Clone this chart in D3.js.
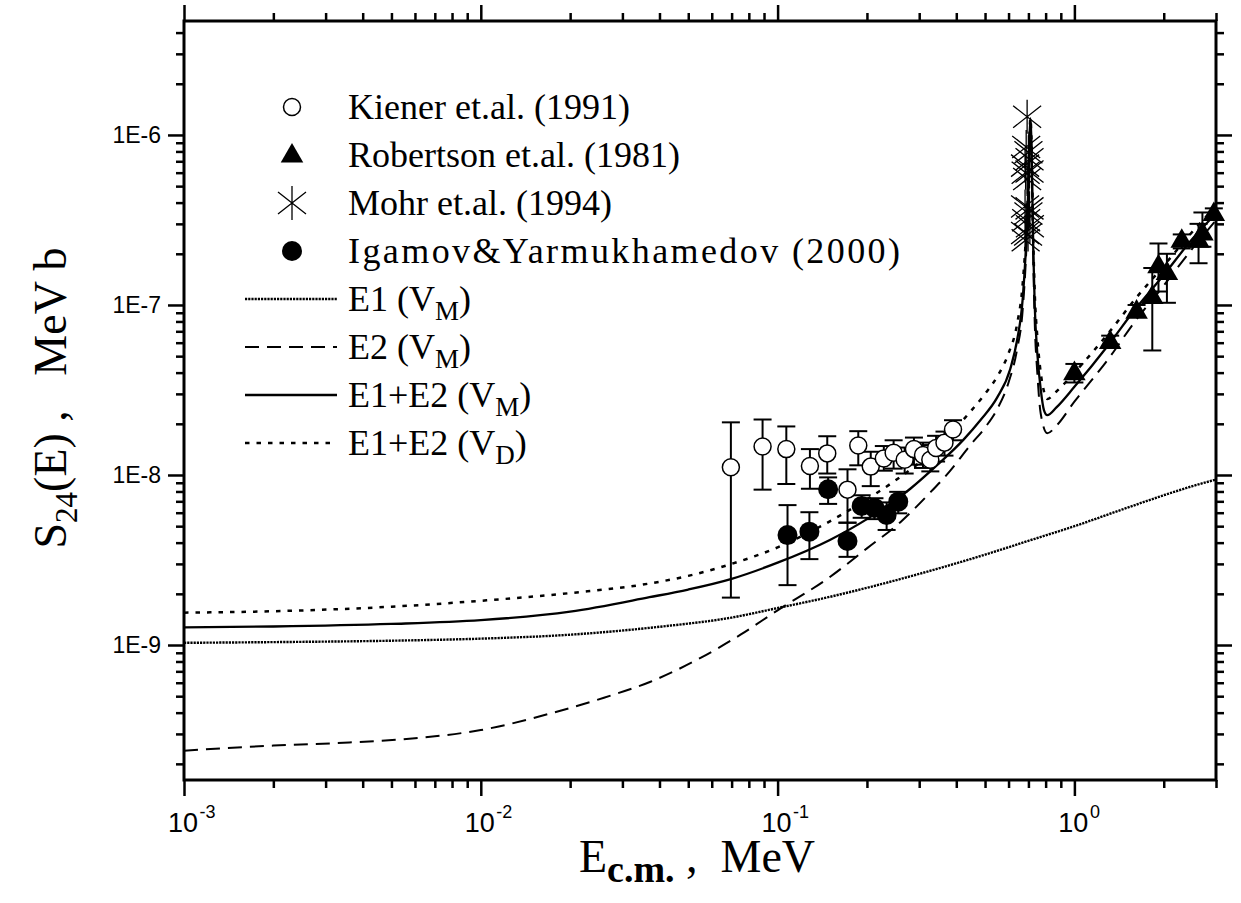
<!DOCTYPE html>
<meta charset="utf-8">
<title>S24(E) astrophysical factor</title>
<style>
body { margin: 0; background-color: #fff; }
svg { display: block; }
.tick line { stroke: #000; stroke-width: 2.5px; }
text { fill: #000; }
</style>
<body>
<script src="https://d3js.org/d3.v7.min.js"></script>
<script>
// plot size
var width = 1241,
    height = 903;

// calculated curves, [E (MeV), S (MeV b)]
var e1VM = [[0.001,1.03e-9],[0.002,1.04e-9],[0.005,1.06e-9],[0.01,1.09e-9],[0.02,1.15e-9],[0.04,1.28e-9],
  [0.07,1.45e-9],[0.1,1.65e-9],[0.15,1.92e-9],[0.2,2.17e-9],[0.3,2.62e-9],[0.5,3.4e-9],[0.7,4.1e-9],
  [1.0,5.0e-9],[1.5,6.4e-9],[2.0,7.6e-9],[2.5,8.6e-9],[3.0,9.4e-9]];

var e2VM = [[0.001,2.39e-10],[0.002,2.56e-10],[0.0036,2.67e-10],[0.006,2.83e-10],[0.01,3.16e-10],
  [0.0172,3.96e-10],[0.026,4.9e-10],[0.0373,6.08e-10],[0.055,8.4e-10],[0.075,1.15e-9],[0.1,1.6e-9],
  [0.147,2.45e-9],[0.2,3.7e-9],[0.263,5.4e-9],[0.32,7.6e-9],[0.38,1.05e-8],[0.446,1.5e-8],[0.5,1.9e-8],
  [0.55,2.45e-8],[0.6,3.5e-8],[0.64,5.4e-8],[0.67,9.5e-8],[0.69,2.3e-7],[0.70,4.8e-7],[0.706,9e-7],
  [0.711,1.2e-6],[0.716,9e-7],[0.721,4.5e-7],[0.727,1.8e-7],[0.735,8e-8],[0.75,4e-8],[0.77,2.3e-8],
  [0.81,1.76e-8],[0.87,1.95e-8],[1.0,2.7e-8],[1.3,4.8e-8],[1.6,8.0e-8],[2.0,1.3e-7],[2.5,2.15e-7],[3.0,3.15e-7]];

var sumVM = [[0.001,1.27e-9],[0.002,1.285e-9],[0.005,1.33e-9],[0.01,1.40e-9],[0.02,1.57e-9],[0.037,1.91e-9],
  [0.05,2.12e-9],[0.07,2.45e-9],[0.1,3.05e-9],[0.15,4.15e-9],[0.2,5.5e-9],[0.28,8.3e-9],[0.346,1.15e-8],
  [0.424,1.62e-8],[0.482,2.1e-8],[0.549,2.85e-8],[0.608,4.2e-8],[0.641,6.2e-8],[0.67,1.1e-7],
  [0.69,2.6e-7],[0.70,5.2e-7],[0.706,9.5e-7],[0.711,1.25e-6],[0.716,9.5e-7],[0.721,5e-7],[0.727,2.1e-7],
  [0.735,1.0e-7],[0.75,5.2e-8],[0.77,3.2e-8],[0.79,2.4e-8],[0.81,2.25e-8],[0.87,2.5e-8],[1.0,3.3e-8],
  [1.3,5.8e-8],[1.6,9.4e-8],[2.0,1.5e-7],[2.5,2.45e-7],[3.0,3.45e-7]];

var sumVD = [[0.001,1.55e-9],[0.002,1.58e-9],[0.005,1.68e-9],[0.01,1.82e-9],[0.02,2.02e-9],[0.037,2.3e-9],
  [0.05,2.55e-9],[0.07,3.0e-9],[0.1,3.75e-9],[0.14,5.0e-9],[0.2,7.2e-9],[0.254,9.5e-9],[0.3,1.18e-8],
  [0.35,1.5e-8],[0.4,1.9e-8],[0.45,2.4e-8],[0.5,3.0e-8],[0.55,3.8e-8],[0.6,5.2e-8],[0.64,7.6e-8],
  [0.67,1.35e-7],[0.69,3.0e-7],[0.70,5.6e-7],[0.706,1.0e-6],[0.711,1.25e-6],[0.716,1.0e-6],[0.721,5.4e-7],
  [0.727,2.4e-7],[0.735,1.2e-7],[0.75,6.5e-8],[0.77,4e-8],[0.79,3.1e-8],[0.81,2.8e-8],[0.87,3.1e-8],
  [1.0,4.0e-8],[1.3,6.8e-8],[1.6,1.08e-7],[2.0,1.7e-7],[2.5,2.7e-7],[3.0,3.8e-7]];

// measured points, [E, S, S low, S high]
var kiener = [[0.0696,1.11e-8,1.9e-9,2.04e-8],[0.089,1.47e-8,8.2e-9,2.12e-8],[0.107,1.42e-8,8.85e-9,1.93e-8],
  [0.1285,1.13e-8,8.3e-9,1.42e-8],[0.147,1.34e-8,1.02e-8,1.69e-8],[0.172,8.2e-9,5.24e-9,1.08e-8],
  [0.187,1.49e-8,1.14e-8,1.81e-8],[0.206,1.12e-8,8.6e-9,1.37e-8],[0.228,1.25e-8,1.06e-8,1.48e-8],
  [0.246,1.35e-8,1.09e-8,1.6e-8],[0.268,1.23e-8,1.02e-8,1.45e-8],[0.288,1.42e-8,1.15e-8,1.66e-8],
  [0.309,1.31e-8,1.1e-8,1.55e-8],[0.327,1.23e-8,1.05e-8,1.5e-8],[0.342,1.44e-8,1.2e-8,1.7e-8],
  [0.365,1.55e-8,1.3e-8,1.8e-8],[0.39,1.85e-8,1.6e-8,2.1e-8]];

var robertson = [[1.0,4.0e-8,3.5e-8,4.5e-8],[1.32,6.1e-8,5.6e-8,6.6e-8],[1.62,9.2e-8,8.5e-8,1.0e-7],
  [1.83,1.12e-7,5.4e-8,1.65e-7],[1.92,1.7e-7,1.2e-7,2.3e-7],[2.05,1.55e-7,1.03e-7,2.0e-7],
  [2.3,2.4e-7,2.15e-7,2.6e-7],[2.62,2.4e-7,1.76e-7,3.0e-7],[2.7,2.65e-7,2.2e-7,3.5e-7],[2.95,3.45e-7,3.2e-7,3.7e-7]];

var mohr = [[0.693,1.28e-6],[0.688,8.5e-7],[0.700,7.9e-7],[0.706,7.2e-7],[0.682,6.6e-7],[0.706,6.1e-7],
  [0.685,6.0e-7],[0.693,5.5e-7],[0.682,3.8e-7],[0.706,3.7e-7],[0.700,3.45e-7],[0.688,3.15e-7],
  [0.708,2.9e-7],[0.682,2.65e-7],[0.698,2.6e-7],[0.685,2.4e-7]];

var igamov = [[0.108,4.43e-9,2.25e-9,6.65e-9],[0.128,4.64e-9,3.2e-9,6.04e-9],[0.148,8.24e-9,6.76e-9,9.68e-9],
  [0.172,4.09e-9,3.3e-9,5.24e-9],[0.192,6.58e-9,5.6e-9,7.6e-9],[0.212,6.4e-9,5.5e-9,7.3e-9],
  [0.233,5.82e-9,4.75e-9,6.9e-9],[0.255,6.97e-9,5.95e-9,7.96e-9]];

// ticks and legend texts
var xMajor = [1e-3, 1e-2, 1e-1, 1];
var xTickLabels = [["10","-3"],["10","-2"],["10","-1"],["10","0"]];
var yMajor = [1e-9, 1e-8, 1e-7, 1e-6];
var yTickLabels = ["1E-9","1E-8","1E-7","1E-6"];
var legendKinds = ["open","tri","star","dot","e1","e2","sum","vd"];
var legendLabels = [
  [["Kiener et.al. (1991)",0]],
  [["Robertson et.al. (1981)",0]],
  [["Mohr et.al. (1994)",0]],
  [["Igamov&Yarmukhamedov (2000)",0]],
  [["E1 (V",0],["M",1],[")",0]],
  [["E2 (V",0],["M",1],[")",0]],
  [["E1+E2 (V",0],["M",1],[")",0]],
  [["E1+E2 (V",0],["D",1],[")",0]]
];

// frame of the plot area
var pLeft = 184, pRight = 1216, pTop = 21, pBottom = 780;

var x = d3.scaleLog().domain([1e-3, 3]).range([pLeft, pRight]);
var y = d3.scaleLog().domain([1.607e-10, 4.68e-6]).range([pBottom, pTop]);

var svg = d3.select("body").append("svg")
    .attr("width", width)
    .attr("height", height);

svg.append("rect").attr("width", width).attr("height", height).attr("fill", "#fff");

var serif = "'Liberation Serif', 'Times New Roman', serif",
    sans = "'Liberation Sans', Arial, sans-serif";

// line styles
var styles = {
  e1:  {dash: "2.2,1", w: 2.4},
  e2:  {dash: "14,8", w: 2},
  sum: {dash: null, w: 2.3},
  vd:  {dash: "4.5,7", w: 2.5}
};

// curves
var line = d3.line()
    .x(function(d) { return x(d[0]); })
    .y(function(d) { return y(d[1]); })
    .curve(d3.curveMonotoneX);

var plot = svg.append("g");
[[e1VM,"e1"],[e2VM,"e2"],[sumVM,"sum"],[sumVD,"vd"]].forEach(function(c) {
  plot.append("path")
    .attr("d", line(c[0]))
    .attr("fill", "none")
    .attr("stroke", "#000")
    .attr("stroke-width", styles[c[1]].w)
    .attr("stroke-dasharray", styles[c[1]].dash);
});

// error bars
function errorBars(data) {
  var g = plot.append("g").attr("stroke", "#000").attr("stroke-width", 2);
  data.forEach(function(d) {
    var cx = x(d[0]);
    g.append("line").attr("x1", cx).attr("x2", cx).attr("y1", y(d[2])).attr("y2", y(d[3]));
    g.append("line").attr("x1", cx - 9).attr("x2", cx + 9).attr("y1", y(d[2])).attr("y2", y(d[2]));
    g.append("line").attr("x1", cx - 9).attr("x2", cx + 9).attr("y1", y(d[3])).attr("y2", y(d[3]));
  });
}
errorBars(kiener);
errorBars(igamov);
errorBars(robertson);

// markers
var triPath = d3.symbol().type(d3.symbolTriangle).size(220)();
var starPath = "M0,-17L0,17M-14,-11L14,11M-14,11L14,-11";

function marker(g, kind, px, py) {
  if (kind === "open") {
    g.append("circle").attr("cx", px).attr("cy", py).attr("r", 8.5)
      .attr("fill", "#fff").attr("stroke", "#000").attr("stroke-width", 1.5);
  } else if (kind === "dot") {
    g.append("circle").attr("cx", px).attr("cy", py).attr("r", 10).attr("fill", "#000");
  } else if (kind === "tri") {
    g.append("path").attr("d", triPath).attr("transform", "translate(" + px + "," + (py + 1) + ")")
      .attr("fill", "#000");
  } else if (kind === "star") {
    g.append("path").attr("d", starPath).attr("transform", "translate(" + px + "," + py + ")")
      .attr("fill", "none").attr("stroke", "#000").attr("stroke-width", 1.3);
  }
}

kiener.forEach(function(d) { marker(plot, "open", x(d[0]), y(d[1])); });
igamov.forEach(function(d) { marker(plot, "dot", x(d[0]), y(d[1])); });
robertson.forEach(function(d) { marker(plot, "tri", x(d[0]), y(d[1])); });
mohr.forEach(function(d) { marker(plot, "star", x(d[0]), y(d[1])); });

// axes: minor and major ticks on all four sides
function isMajor(list, v) {
  return list.some(function(m) { return Math.abs(m - v) / m < 1e-6; });
}
var xMinor = x.ticks().filter(function(v) { return !isMajor(xMajor, v); });
var yMinor = y.ticks().filter(function(v) { return !isMajor(yMajor, v); });

function drawAxis(axis, tr) {
  svg.append("g").attr("transform", tr).call(axis)
    .call(function(g) { g.select(".domain").remove(); g.selectAll("text").remove(); });
}
drawAxis(d3.axisBottom(x).tickValues(xMinor).tickSize(8), "translate(0," + pBottom + ")");
drawAxis(d3.axisBottom(x).tickValues(xMajor).tickSize(16), "translate(0," + pBottom + ")");
drawAxis(d3.axisTop(x).tickValues(xMinor).tickSize(8), "translate(0," + pTop + ")");
drawAxis(d3.axisTop(x).tickValues(xMajor).tickSize(16), "translate(0," + pTop + ")");
drawAxis(d3.axisLeft(y).tickValues(yMinor).tickSize(8), "translate(" + pLeft + ",0)");
drawAxis(d3.axisLeft(y).tickValues(yMajor).tickSize(16), "translate(" + pLeft + ",0)");
drawAxis(d3.axisRight(y).tickValues(yMinor).tickSize(8), "translate(" + pRight + ",0)");
drawAxis(d3.axisRight(y).tickValues(yMajor).tickSize(16), "translate(" + pRight + ",0)");

svg.append("rect")
  .attr("x", pLeft).attr("y", pTop)
  .attr("width", pRight - pLeft).attr("height", pBottom - pTop)
  .attr("fill", "none").attr("stroke", "#000").attr("stroke-width", 3);

// tick labels
xMajor.forEach(function(v, i) {
  svg.append("text").attr("x", x(v) + 14).attr("y", 832)
    .attr("text-anchor", "end").attr("font-family", sans).attr("font-size", 27)
    .text(xTickLabels[i][0]);
  svg.append("text").attr("x", x(v) + 15.5).attr("y", 818)
    .attr("font-family", sans).attr("font-size", 18)
    .text(xTickLabels[i][1]);
});

yMajor.forEach(function(v, i) {
  svg.append("text").attr("x", 161).attr("y", y(v) + 8)
    .attr("text-anchor", "end").attr("font-family", sans).attr("font-size", 23)
    .text(yTickLabels[i]);
});

// text with subscripts
function richText(t, parts, subSize, subDy, subBold) {
  var prevSub = false;
  parts.forEach(function(p) {
    var s = t.append("tspan").text(p[0]);
    if (p[1]) {
      s.attr("font-size", subSize);
      if (subBold) s.attr("font-weight", "bold");
      if (!prevSub) s.attr("dy", subDy);
    } else if (prevSub) {
      s.attr("dy", -subDy);
    }
    prevSub = !!p[1];
  });
}

// axis titles
var yTitle = svg.append("text")
  .attr("transform", "translate(66,398) rotate(-90)")
  .attr("text-anchor", "middle").attr("font-family", serif).attr("font-size", 46)
  .style("white-space", "pre");
richText(yTitle, [["S",0],["24",1],["(E) ,   MeV b",0]], 31, 11, false);

var xTitle = svg.append("text")
  .attr("x", 697).attr("y", 872)
  .attr("text-anchor", "middle").attr("font-family", serif).attr("font-size", 46)
  .style("white-space", "pre");
richText(xTitle, [["E",0],["c.m.",1],[" ,  MeV",0]], 38, 10, true);

// legend
var legend = svg.append("g");
legendKinds.forEach(function(k, i) {
  var ly = 107 + i * 48;
  if (styles[k]) {
    legend.append("line").attr("x1", 245).attr("x2", 337).attr("y1", ly).attr("y2", ly)
      .attr("stroke", "#000").attr("stroke-width", styles[k].w)
      .attr("stroke-dasharray", styles[k].dash);
  } else {
    marker(legend, k, 292, ly);
  }
  var t = legend.append("text").attr("x", 348).attr("y", ly + 12)
    .attr("font-family", serif).attr("font-size", 36)
    .style("white-space", "pre");
  richText(t, legendLabels[i], 27, 9, false);
  if (k === "dot") t.attr("textLength", 552).attr("lengthAdjust", "spacing");
});
</script>
</body>
